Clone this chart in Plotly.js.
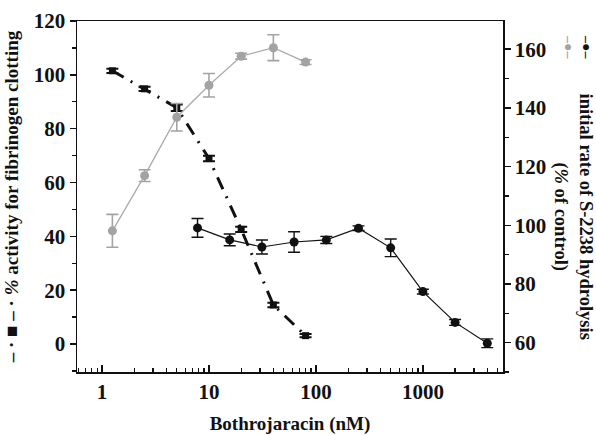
<!DOCTYPE html>
<html>
<head>
<meta charset="utf-8">
<script src="https://cdn.plot.ly/plotly-3.0.1.min.js"></script>
<style>html,body{margin:0;padding:0;background:#fff;}#chart{width:596px;height:435px;}</style>
</head>
<body>
<div id="chart"></div>
<script>
// Fibrinogen clotting activity (left axis), dash-dot with squares
const fibConc = [1.25, 2.5, 5, 10, 20, 40, 80];
const fibActivity = [101.5, 94.8, 87.8, 68.9, 42.6, 14.5, 3.1];
const fibErr = [0.8, 0.8, 1.2, 1.0, 1.0, 0.8, 0.6];

// S-2238 hydrolysis, gray series (right axis)
const grayConc = [1.25, 2.5, 5, 10, 20, 40, 80];
const grayRate = [98.1, 116.9, 136.8, 147.7, 157.6, 160.5, 155.6];
const grayErr = [5.6, 2.0, 4.7, 4.0, 1.0, 4.4, 0.8];

// S-2238 hydrolysis, black series (right axis)
const blackConc = [7.8125, 15.625, 31.25, 62.5, 125, 250, 500, 1000, 2000, 4000];
const blackRate = [99.1, 95.0, 92.6, 94.3, 95.0, 99.0, 92.3, 77.4, 66.9, 59.8];
const blackErr = [3.2, 2.0, 2.4, 3.5, 1.2, 0.8, 3.0, 0.8, 1.0, 1.5];

const xTickVals = [1, 10, 100, 1000];
const xTickText = ['1', '10', '100', '1000'];
const xMinorVals = [0.6,0.7,0.8,0.9,2,3,4,5,6,7,8,9,20,30,40,50,60,70,80,90,200,300,400,500,600,700,800,900,2000,3000,4000,5000];

const serif = 'Liberation Serif';
const gray = '#a3a3a3';

const traces = [
  {
    x: grayConc, y: grayRate, yaxis: 'y2', type: 'scatter', mode: 'lines+markers',
    line: {color: '#aaaaaa', width: 1.3},
    marker: {symbol: 'circle', size: 9, color: gray},
    error_y: {type: 'data', array: grayErr, visible: true, color: gray, thickness: 1.6, width: 6},
    showlegend: false, hoverinfo: 'skip'
  },
  {
    x: blackConc, y: blackRate, yaxis: 'y2', type: 'scatter', mode: 'lines+markers',
    line: {color: '#111', width: 1.2},
    marker: {symbol: 'circle', size: 9, color: '#111'},
    error_y: {type: 'data', array: blackErr, visible: true, color: '#111', thickness: 1.4, width: 6},
    showlegend: false, hoverinfo: 'skip'
  },
  {
    x: fibConc, y: fibActivity, yaxis: 'y', type: 'scatter', mode: 'lines+markers',
    line: {color: '#111', width: 3, dash: '13px,8px,2px,8px'},
    marker: {symbol: 'square', size: 7, color: '#111'},
    error_y: {type: 'data', array: fibErr, visible: true, color: '#111', thickness: 2, width: 6},
    showlegend: false, hoverinfo: 'skip'
  }
];

const layout = {
  width: 596, height: 435,
  margin: {l: 77, r: 93, t: 21, b: 63},
  paper_bgcolor: '#fff', plot_bgcolor: '#fff',
  font: {family: serif, color: '#111', size: 20, weight: 'bold'},
  xaxis: {
    type: 'log', range: [-0.234, 3.749],
    tickvals: xTickVals, ticktext: xTickText,
    ticks: 'inside', ticklen: 7, tickwidth: 1.5, tickcolor: '#111',
    minor: {tickvals: xMinorVals, ticks: 'inside', ticklen: 4, tickwidth: 1.2, tickcolor: '#111'},
    showline: true, linecolor: '#111', linewidth: 1.5, mirror: true,
    showgrid: false, zeroline: false,
    tickfont: {family: serif, size: 21, weight: 'bold', color: '#111'},
    title: {text: 'Bothrojaracin (nM)', font: {family: serif, size: 19, weight: 'bold', color: '#111'}, standoff: 18}
  },
  yaxis: {
    range: [-10.4, 120], dtick: 20, tick0: 0,
    ticks: 'outside', ticklen: 6, tickwidth: 1.5, tickcolor: '#111',
    minor: {dtick: 10, ticks: 'outside', ticklen: 4, tickwidth: 1.2, tickcolor: '#111'},
    showline: true, linecolor: '#111', linewidth: 1.5,
    showgrid: false, zeroline: false,
    tickfont: {family: serif, size: 21, weight: 'bold', color: '#111'},
    title: {text: '– · ■ – · <i>%</i> activity for fibrinogen clotting', font: {family: serif, size: 19, weight: 'bold', color: '#111'}, standoff: 10}
  },
  yaxis2: {
    overlaying: 'y', side: 'right', range: [50, 169.6], dtick: 20, tick0: 0,
    ticks: 'outside', ticklen: 6, tickwidth: 1.5, tickcolor: '#111',
    minor: {dtick: 10, ticks: 'outside', ticklen: 4, tickwidth: 1.2, tickcolor: '#111'},
    showline: true, linecolor: '#111', linewidth: 1.5,
    showgrid: false, zeroline: false,
    tickfont: {family: serif, size: 21, weight: 'bold', color: '#111'}
  },
  annotations: [
    {xref: 'paper', yref: 'paper', x: 1, y: 0.5, xanchor: 'center', yanchor: 'middle', xshift: 70, yshift: -20,
     textangle: 90, showarrow: false,
     text: 'initial rate of S-2238 hydrolysis<br>(<i>%</i> of control)',
     font: {family: serif, size: 18.5, weight: 'bold', color: '#111'}},
    {xref: 'paper', yref: 'paper', x: 1, y: 1, xanchor: 'center', yanchor: 'middle', xshift: 84, yshift: -26,
     textangle: 90, showarrow: false, text: '–●–', font: {family: serif, size: 14, color: '#111'}},
    {xref: 'paper', yref: 'paper', x: 1, y: 1, xanchor: 'center', yanchor: 'middle', xshift: 66, yshift: -26,
     textangle: 90, showarrow: false, text: '–●–', font: {family: serif, size: 14, color: gray}}
  ]
};

Plotly.newPlot('chart', traces, layout, {staticPlot: true, displayModeBar: false});
</script>
</body>
</html>
